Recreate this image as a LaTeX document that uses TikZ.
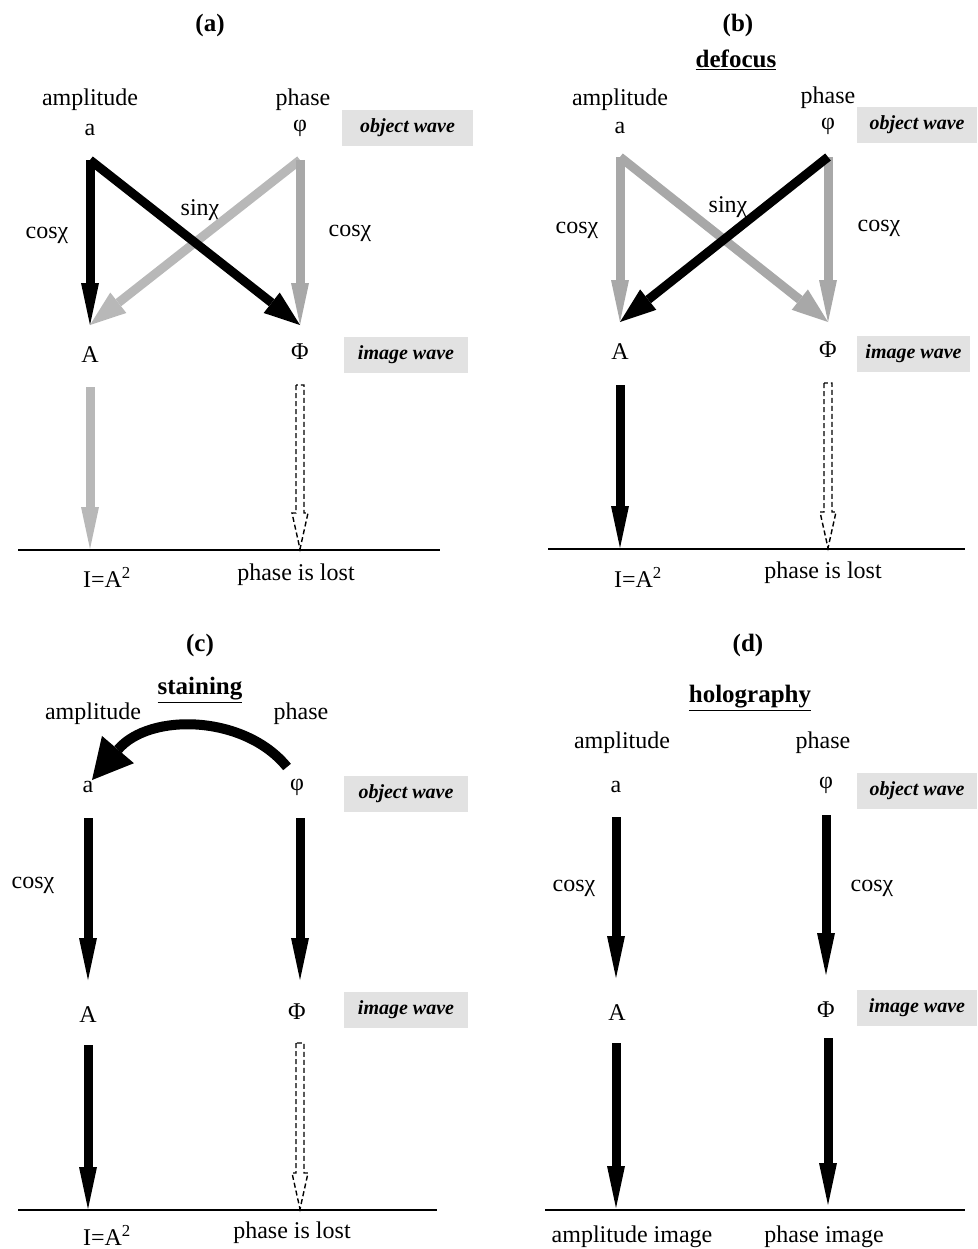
\documentclass[tikz,border=0pt]{standalone}
\usepackage{fontspec}
\setmainfont{Liberation Serif}
\usetikzlibrary{arrows.meta,calc}
\definecolor{lg}{HTML}{B8B8B8}
\definecolor{mg}{HTML}{A8A8A8}
\definecolor{boxg}{HTML}{E2E2E2}
\newcommand{\hollowarr}[2]{%
  \draw[line width=1.4pt, dash pattern=on 5pt off 3pt]
    ($(#1)+(-4,0)$) -- ($(#2)+(-4,-36)$) -- ($(#2)+(-8,-36)$) -- (#2)
    -- ($(#2)+(8,-36)$) -- ($(#2)+(4,-36)$) -- ($(#1)+(4,0)$) -- cycle;}
\begin{document}
\begin{tikzpicture}[x=1pt,y=-1pt,
  lbl/.style={font=\fontsize{24}{28}\selectfont, inner sep=0pt},
  ttl/.style={font=\fontsize{25}{30}\selectfont\bfseries, inner sep=0pt},
  wavebox/.style={fill=boxg, minimum height=36pt, inner sep=0pt,
    font=\fontsize{20}{24}\selectfont\bfseries\itshape},
  varr/.style={line width=9pt, -{Triangle[width=18pt,length=42pt,line width=0pt]}},
  darr/.style={line width=9pt, -{Triangle[width=26pt,length=36pt,line width=0pt]}},
  basel/.style={line width=2pt}]
\useasboundingbox (0,0) rectangle (977,1249);

% ================= (a) =================
\node[ttl] (ta) at (210,25) {(a)};
\node[lbl] (ampa) at (90,100) {amplitude};
\node[lbl] (aa) at (90,130) {a};
\node[lbl] (pha) at (303,100) {phase};
\node[lbl] (phia) at (300,128) {φ};
\node[wavebox, minimum width=131pt] (owa) at (407.5,128) {object wave};
\node[lbl] (Aa) at (90,355) {A};
\node[lbl] (PHa) at (300,352) {Φ};
\node[wavebox, minimum width=124pt] (iwa) at (406,355) {image wave};
\node[lbl] (c1a) at (47,235) {cosχ};
\node[lbl] (c2a) at (350,233) {cosχ};
\node[lbl] (sa) at (200,210) {sinχ};
\node[lbl] (Ia) at (107,577) {I=A\textsuperscript{2}};
\node[lbl] (pla) at (296,575) {phase is lost};
\coordinate (a1) at (90,160); \coordinate (a2) at (300,160);
\coordinate (a3) at (90,325); \coordinate (a4) at (300,325);
\coordinate (a5) at (90,387); \coordinate (a6) at (90,549);
\coordinate (a7) at (300,385); \coordinate (a8) at (300,549);
\coordinate (la1) at (18,550); \coordinate (la2) at (440,550);
\draw[darr, lg] (a2) -- (a3);
\draw[varr, mg] (a2) -- (a4);
\draw[varr, black] (a1) -- (a3);
\draw[darr, black] (a1) -- (a4);
\draw[varr, lg] (a5) -- (a6);
\hollowarr{a7}{a8}
\draw[basel] (la1) -- (la2);

% ================= (b) =================
\node[ttl] (tb) at (738,25) {(b)};
\node[ttl] (defb) at (736,60) {\underline{defocus}};
\node[lbl] (ampb) at (620,100) {amplitude};
\node[lbl] (ab) at (620,128) {a};
\node[lbl] (phb) at (828,98) {phase};
\node[lbl] (phib) at (828,126) {φ};
\node[wavebox, minimum width=120pt] (owb) at (917,125) {object wave};
\node[lbl] (Ab) at (620,352) {A};
\node[lbl] (PHb) at (828,350) {Φ};
\node[wavebox, minimum width=113pt] (iwb) at (913.5,354) {image wave};
\node[lbl] (c1b) at (577,230) {cosχ};
\node[lbl] (c2b) at (879,228) {cosχ};
\node[lbl] (sb) at (728,207) {sinχ};
\node[lbl] (Ib) at (638,577) {I=A\textsuperscript{2}};
\node[lbl] (plb) at (823,573) {phase is lost};
\coordinate (b1) at (620,157); \coordinate (b2) at (828,157);
\coordinate (b3) at (620,322); \coordinate (b4) at (828,322);
\coordinate (b5) at (620,385); \coordinate (b6) at (620,548);
\coordinate (b7) at (828,383); \coordinate (b8) at (828,548);
\coordinate (lb1) at (548,549); \coordinate (lb2) at (965,549);
\draw[varr, mg] (b1) -- (b3);
\draw[varr, mg] (b2) -- (b4);
\draw[darr, mg] (b1) -- (b4);
\draw[darr, black] (b2) -- (b3);
\draw[varr, black] (b5) -- (b6);
\hollowarr{b7}{b8}
\draw[basel] (lb1) -- (lb2);

% ================= (c) =================
\node[ttl] (tc) at (200,645) {(c)};
\node[ttl] (stc) at (200,690) {\underline{staining}};
\node[lbl] (ampc) at (93,714) {amplitude};
\node[lbl] (phc) at (301,714) {phase};
\node[lbl] (ac) at (88,787) {a};
\node[lbl] (phic) at (297,787) {φ};
\node[wavebox, minimum width=124pt] (owc) at (406,794) {object wave};
\node[lbl] (Ac) at (88,1015) {A};
\node[lbl] (PHc) at (297,1012) {Φ};
\node[wavebox, minimum width=124pt] (iwc) at (406,1010) {image wave};
\node[lbl] (c1c) at (33,885) {cosχ};
\node[lbl] (Ic) at (107,1235) {I=A\textsuperscript{2}};
\node[lbl] (plc) at (292,1233) {phase is lost};
\coordinate (cs) at (287,767); \coordinate (ce) at (92,780);
\coordinate (c1) at (88,818); \coordinate (c2) at (300,818);
\coordinate (c3) at (88,980); \coordinate (c4) at (300,980);
\coordinate (c5) at (88,1045); \coordinate (c6) at (88,1209);
\coordinate (c7) at (300,1043); \coordinate (c8) at (300,1209);
\coordinate (lc1) at (18,1210); \coordinate (lc2) at (437,1210);
\draw[line width=10pt, -{Triangle[width=42pt,length=40pt,line width=0pt]}]
  (cs) .. controls (245,715) and (150,712) .. (ce);
\draw[varr] (c1) -- (c3);
\draw[varr] (c2) -- (c4);
\draw[varr] (c5) -- (c6);
\hollowarr{c7}{c8}
\draw[basel] (lc1) -- (lc2);

% ================= (d) =================
\node[ttl] (td) at (748,645) {(d)};
\node[ttl] (hod) at (750,698) {\underline{holography}};
\node[lbl] (ampd) at (622,743) {amplitude};
\node[lbl] (phd) at (823,743) {phase};
\node[lbl] (ad) at (616,787) {a};
\node[lbl] (phid) at (826,785) {φ};
\node[wavebox, minimum width=120pt] (owd) at (917,791) {object wave};
\node[lbl] (Ad) at (617,1013) {A};
\node[lbl] (PHd) at (826,1010) {Φ};
\node[wavebox, minimum width=120pt] (iwd) at (917,1008) {image wave};
\node[lbl] (c1d) at (574,888) {cosχ};
\node[lbl] (c2d) at (872,888) {cosχ};
\node[lbl] (aid) at (632,1237) {amplitude image};
\node[lbl] (pid) at (824,1237) {phase image};
\coordinate (d1) at (616,817); \coordinate (d2) at (826,815);
\coordinate (d3) at (616,978); \coordinate (d4) at (826,975);
\coordinate (d5) at (616,1043); \coordinate (d6) at (616,1208);
\coordinate (d7) at (828,1038); \coordinate (d8) at (828,1205);
\coordinate (ld1) at (545,1210); \coordinate (ld2) at (965,1210);
\draw[varr] (d1) -- (d3);
\draw[varr] (d2) -- (d4);
\draw[varr] (d5) -- (d6);
\draw[varr] (d7) -- (d8);
\draw[basel] (ld1) -- (ld2);
\end{tikzpicture}
\end{document}
